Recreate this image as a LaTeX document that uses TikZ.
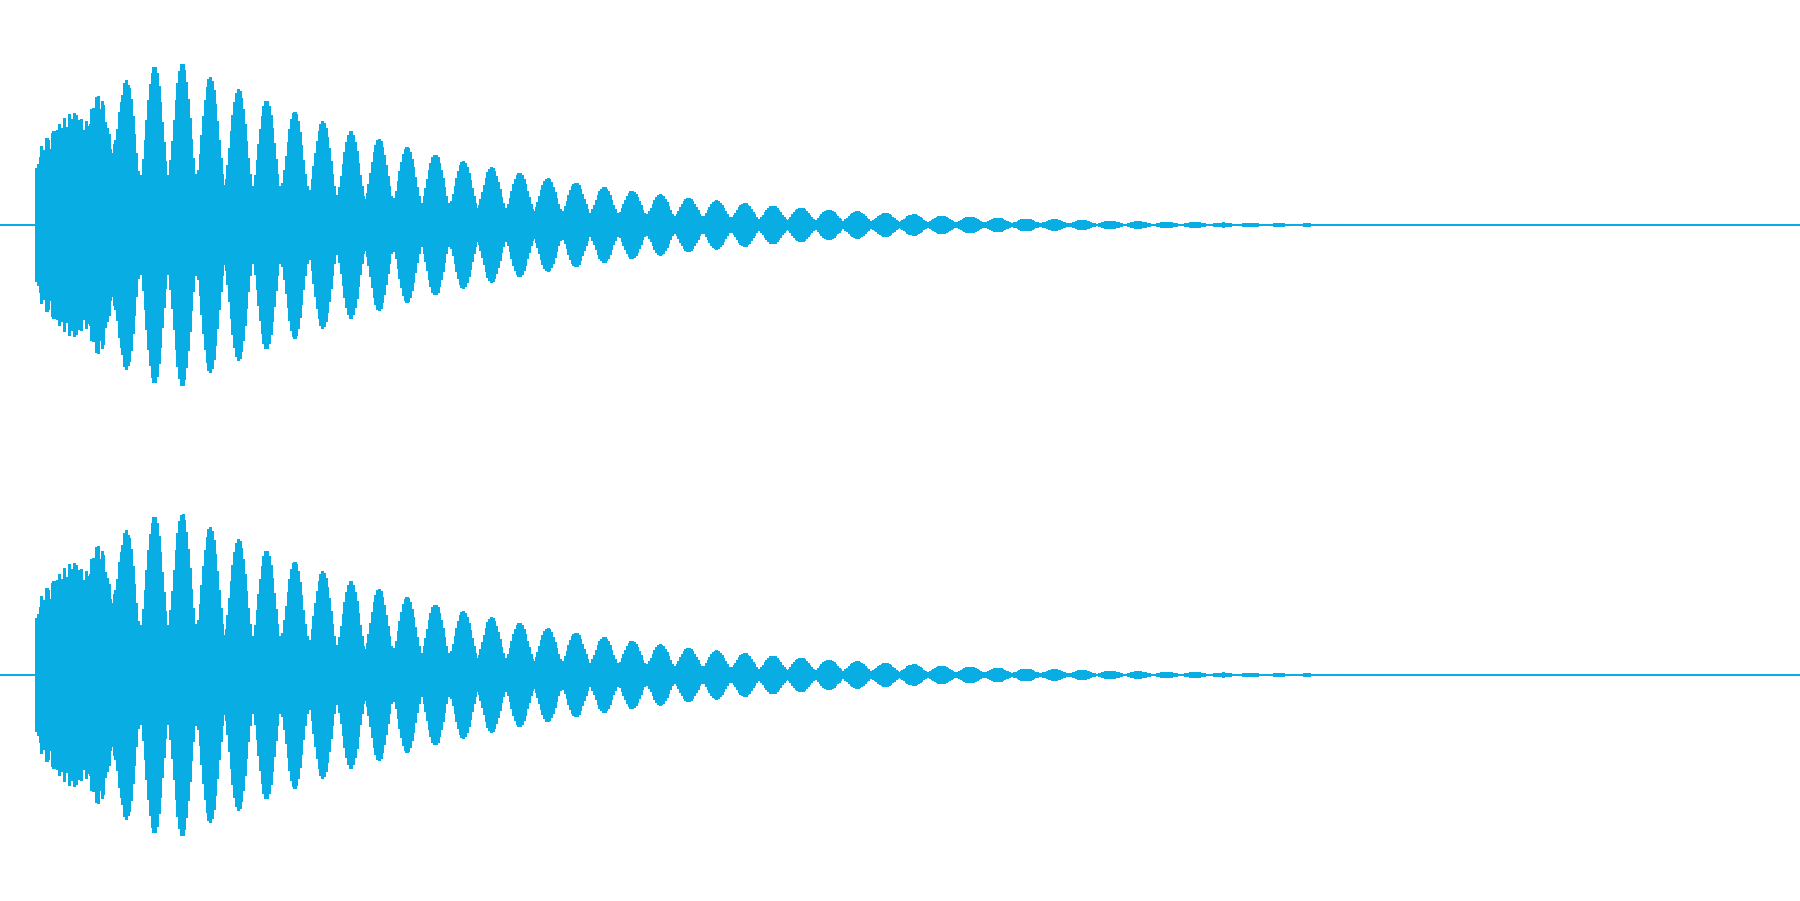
\documentclass[tikz,border=0pt]{standalone}
\definecolor{wave}{HTML}{08ADE4}
\begin{document}
\begin{tikzpicture}[x=18cm/1568, y=-9cm/784]
\useasboundingbox (0,0) rectangle (1568,784);
\foreach \cy in {196,588}{
  \draw[wave, line width=0.4pt] (0,\cy) -- (1568,\cy);
  \foreach \xx in {32,33.5,...,1400}{
    \pgfmathsetmacro{\rise}{50+95*sqrt((min(\xx,150)-32)/118)}
    \pgfmathsetmacro{\dd}{max(\xx,150)-150}
    \pgfmathsetmacro{\dec}{exp(-\dd/290-(\dd/900)*(\dd/900))}
    \pgfmathsetmacro{\ph}{mod(\xx+870,24.5)/24.5*180}
    \pgfmathsetmacro{\cc}{abs(cos(\ph))}
    \pgfmathsetmacro{\wt}{min(max((\xx-60)/60,0),1)}
    \pgfmathsetmacro{\nz}{0.8+0.2*abs(sin(mod(\xx,97)*37))}
    \pgfmathsetmacro{\mm}{(1-\wt)*\nz+\wt*(0.28+0.72*\cc*sqrt(\cc))}
    \pgfmathsetmacro{\amp}{max(\rise*\dec*\mm,0.6)}
    \draw[wave, line width=0.9pt] (\xx,\cy-\amp) -- (\xx,\cy+\amp);
  }
}
\end{tikzpicture}
\end{document}
